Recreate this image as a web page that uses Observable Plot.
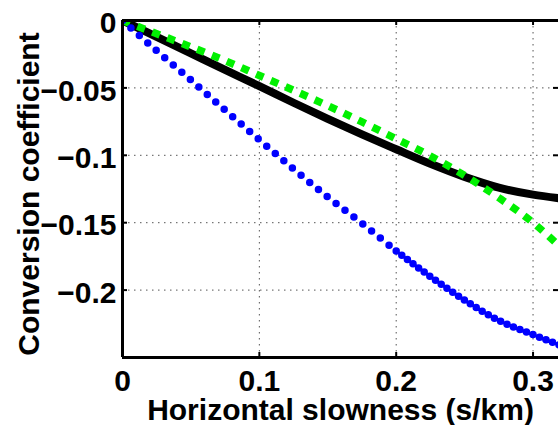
<!DOCTYPE html>
<html>
<head>
<meta charset="utf-8">
<script src="https://cdn.jsdelivr.net/npm/d3@7"></script>
<script src="https://cdn.jsdelivr.net/npm/@observablehq/plot@0.6"></script>
<style>
  html, body { margin: 0; padding: 0; background: #fff; }
</style>
</head>
<body>
<div id="chart"></div>
<script>
// Horizontal slowness samples (s/km)
const slowness = [0, 0.025, 0.05, 0.075, 0.1, 0.125, 0.15, 0.175, 0.2, 0.225, 0.25, 0.275, 0.3, 0.32];
// Series values
const blackSeries = [0, -0.0122, -0.0244, -0.0366, -0.0487, -0.0610, -0.0730, -0.0845, -0.0955, -0.1063, -0.1160, -0.1240, -0.1292, -0.1320];
const greenSeries = [0, -0.0098, -0.0196, -0.0298, -0.0408, -0.0518, -0.0632, -0.0752, -0.0878, -0.1005, -0.1150, -0.1315, -0.1500, -0.1680];
const blueSeries  = [0, -0.0225, -0.0442, -0.0665, -0.0885, -0.1102, -0.1310, -0.1505, -0.1710, -0.1900, -0.2075, -0.2225, -0.2330, -0.2410];

const xTicks = [0, 0.1, 0.2, 0.3];
const xTickLabels = ["0", "0.1", "0.2", "0.3"];
const yTicks = [0, -0.05, -0.1, -0.15, -0.2];
const yTickLabels = ["0", "\u22120.05", "\u22120.1", "\u22120.15", "\u22120.2"];
const xDomain = [0, 0.3186];
const yDomain = [-0.25, 0];
const xLabel = "Horizontal slowness (s/km)";
const yLabel = "Conversion coefficient";

const rows = (vals) => slowness.map((s, i) => ({s, v: vals[i]}));
const blackRows = rows(blackSeries);
const greenRows = rows(greenSeries);
const blueRows = rows(blueSeries);
const blueA = blueRows.filter(d => d.s <= 0.2);
const blueB = blueRows.filter(d => d.s >= 0.2);

const W = 558, H = 425, ML = 122, MR = 0, MT = 20, MB = 68;
const fw = W - ML - MR, fh = H - MT - MB;
const tick = 5;

const chart = Plot.plot({
  width: W,
  height: H,
  marginLeft: ML,
  marginRight: MR,
  marginTop: MT,
  marginBottom: MB,
  x: {domain: xDomain},
  y: {domain: yDomain},
  style: {
    fontFamily: "'Liberation Sans', Arial, Helvetica, sans-serif",
    fontWeight: "bold",
    background: "#fff",
    color: "#000",
    overflow: "visible"
  },
  marks: [
    Plot.gridX({ticks: xTicks, stroke: "#555", strokeOpacity: 1, strokeWidth: 1, strokeDasharray: "1.5,4.5"}),
    Plot.gridY({ticks: yTicks, stroke: "#555", strokeOpacity: 1, strokeWidth: 1, strokeDasharray: "1.5,4.5"}),
    Plot.line(blackRows, {x: "s", y: "v", stroke: "#000", strokeWidth: 8, curve: "monotone-x", clip: true}),
    Plot.line(greenRows, {x: "s", y: "v", stroke: "#00f000", strokeWidth: 7.5, strokeDasharray: "8,8", strokeLinecap: "butt", curve: "monotone-x", clip: true}),
    Plot.line(blueA, {x: "s", y: "v", stroke: "#0000ff", strokeWidth: 7.5, strokeDasharray: "0,11.25", strokeLinecap: "round", curve: "monotone-x", clip: true}),
    Plot.line(blueB, {x: "s", y: "v", stroke: "#0000ff", strokeWidth: 7.5, strokeDasharray: "0,7", strokeLinecap: "round", curve: "monotone-x", clip: true}),
    // inside tick marks
    Plot.tickX(xTicks, {x: d => d, insetTop: fh - tick, stroke: "#000", strokeWidth: 2}),
    Plot.tickX(xTicks, {x: d => d, insetBottom: fh - tick, stroke: "#000", strokeWidth: 2}),
    Plot.tickY(yTicks, {y: d => d, insetRight: fw - tick, stroke: "#000", strokeWidth: 2}),
    Plot.tickY(yTicks, {y: d => d, insetLeft: fw - tick, stroke: "#000", strokeWidth: 2}),
    // axis lines (left, bottom, top)
    Plot.ruleX([xDomain[0]], {stroke: "#000", strokeWidth: 3}),
    Plot.ruleY([yDomain[0]], {stroke: "#000", strokeWidth: 3}),
    Plot.ruleY([yDomain[1]], {stroke: "#000", strokeWidth: 3}),
    // tick labels
    Plot.axisX({ticks: xTicks, tickSize: 0, tickPadding: 12, fontSize: 30, fontWeight: "bold",
      tickFormat: d => xTickLabels[xTicks.indexOf(d)], label: null}),
    Plot.axisY({ticks: yTicks, tickSize: 0, tickPadding: 6, fontSize: 30, fontWeight: "bold", dy: 3,
      tickFormat: d => yTickLabels[yTicks.indexOf(d)], label: null}),
    // axis titles
    Plot.text([xLabel], {frameAnchor: "bottom", text: d => d, dy: 62, lineAnchor: "bottom", textAnchor: "middle",
      fontSize: 30, fontWeight: "bold", fill: "#000"}),
    Plot.text([yLabel], {frameAnchor: "left", text: d => d, dx: -84, dy: 5, rotate: -90, lineAnchor: "bottom", textAnchor: "middle",
      fontSize: 30, fontWeight: "bold", fill: "#000"})
  ]
});
document.getElementById("chart").appendChild(chart);
</script>
</body>
</html>
